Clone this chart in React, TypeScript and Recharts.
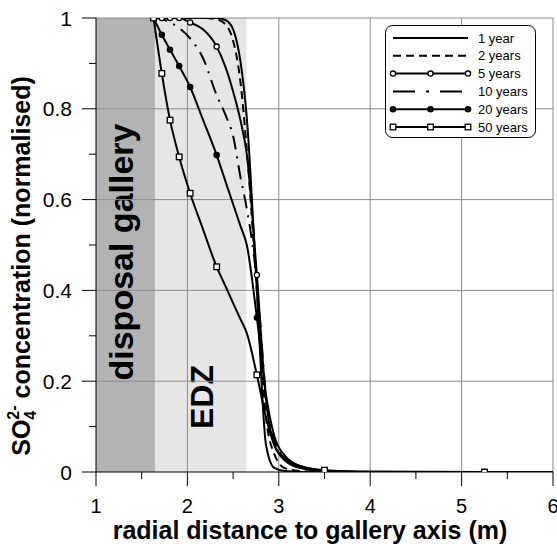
import {
  LineChart,
  Line,
  XAxis,
  YAxis,
  ReferenceArea,
  ReferenceLine,
  Legend,
} from "recharts";

// radial mesh (m) shared by all series
const radius = [
  1.63, 1.72, 1.81, 1.91, 2.03, 2.17, 2.32, 2.42, 2.5, 2.58, 2.65, 2.76, 2.86,
  2.95, 3.07, 3.25, 3.5, 4.0, 5.25, 6.0,
];
const markerRadius = [1.63, 1.72, 1.81, 1.91, 2.03, 2.32, 2.76, 3.5, 5.25];

const year1 = [
  1, 1, 1, 1, 1, 1, 1, 0.995, 0.975, 0.905, 0.78, 0.4, 0.06, 0.009, 0.002, 0,
  0, 0, 0, 0,
];
const year2 = [
  1, 1, 1, 1, 1, 1, 0.997, 0.985, 0.95, 0.86, 0.71, 0.4, 0.12, 0.04, 0.008,
  0.002, 0, 0, 0, 0,
];
const year5 = [
  1, 1, 1, 1, 0.99, 0.975, 0.937, 0.89, 0.838, 0.775, 0.7, 0.434, 0.16, 0.06,
  0.025, 0.008, 0.002, 0, 0, 0,
];
const year10 = [
  1, 0.998, 0.99, 0.978, 0.955, 0.912, 0.83, 0.785, 0.74, 0.65, 0.58, 0.42,
  0.17, 0.07, 0.03, 0.01, 0.003, 0, 0, 0,
];
const year20 = [
  1, 0.963, 0.93, 0.894, 0.848, 0.776, 0.698, 0.638, 0.59, 0.542, 0.5, 0.34,
  0.17, 0.08, 0.035, 0.012, 0.003, 0, 0, 0,
];
const year50 = [
  1, 0.878, 0.775, 0.694, 0.614, 0.535, 0.452, 0.408, 0.372, 0.337, 0.306,
  0.214, 0.12, 0.06, 0.03, 0.012, 0.004, 0.001, 0, 0,
];

const xTicks = [1, 1.5, 2, 2.5, 3, 3.5, 4, 4.5, 5, 5.5, 6];
const yTicks = [0, 0.1, 0.2, 0.3, 0.4, 0.5, 0.6, 0.7, 0.8, 0.9, 1];
const xGrid = [2, 3, 4, 5, 6];
const yGrid = [0.2, 0.4, 0.6, 0.8, 1];
const galleryEdge = 1.645;
const edzEdge = 2.645;

const series = [
  { key: "y1", name: "1 year", values: year1, dash: undefined, marker: "" },
  { key: "y2", name: "2 years", values: year2, dash: "8 5", marker: "" },
  { key: "y5", name: "5 years", values: year5, dash: undefined, marker: "circle" },
  { key: "y10", name: "10 years", values: year10, dash: "14 7 2 7", marker: "" },
  { key: "y20", name: "20 years", values: year20, dash: undefined, marker: "dot" },
  { key: "y50", name: "50 years", values: year50, dash: undefined, marker: "square" },
];

const data = radius.map((x, i) => {
  const row: Record<string, number> = { x };
  series.forEach((s) => {
    row[s.key] = s.values[i];
  });
  return row;
});

const FONT = "'Liberation Sans', Arial, sans-serif";
const PLOT_LEFT = 96;
const PLOT_BOTTOM = 472;

function Marker({ kind, cx, cy }: { kind: string; cx: number; cy: number }) {
  if (kind === "circle")
    return <circle cx={cx} cy={cy} r={2.6} fill="#fff" stroke="#000" strokeWidth={1.3} />;
  if (kind === "dot") return <circle cx={cx} cy={cy} r={3.3} fill="#000" />;
  if (kind === "square")
    return (
      <rect x={cx - 2.8} y={cy - 2.8} width={5.6} height={5.6} fill="#fff" stroke="#000" strokeWidth={1.3} />
    );
  return null;
}

const makeDot = (kind: string) => (props: any) => {
  const { cx, cy, payload, index } = props;
  if (!markerRadius.includes(payload.x)) return <g key={index} />;
  return (
    <g key={index}>
      <Marker kind={kind} cx={cx} cy={cy} />
    </g>
  );
};

function XTick({ x, payload }: any) {
  const v = payload.value;
  const major = Number.isInteger(v);
  return (
    <g>
      <line x1={x} x2={x} y1={PLOT_BOTTOM} y2={PLOT_BOTTOM + (major ? 14 : 7)} stroke="#000" />
      {major && (
        <text x={x} y={PLOT_BOTTOM + 41} textAnchor="middle" fontSize={20} fontFamily={FONT} fill="#000">
          {v}
        </text>
      )}
    </g>
  );
}

function YTick({ y, payload }: any) {
  const v = Math.round(payload.value * 10) / 10;
  const major = Math.round(v * 10) % 2 === 0;
  return (
    <g>
      <line x1={PLOT_LEFT - (major ? 14 : 7)} x2={PLOT_LEFT} y1={y} y2={y} stroke="#000" />
      {major && (
        <text x={PLOT_LEFT - 24} y={y + 7.5} textAnchor="end" fontSize={21} fontFamily={FONT} fill="#000">
          {v}
        </text>
      )}
    </g>
  );
}

// rotated text placed inside a shaded band
const bandLabel = (text: string, size: number, dx: number, cy: number) => (props: any) => {
  const vb = props.viewBox || {};
  const bx = vb.x + vb.width / 2 + dx;
  return (
    <text
      transform={`translate(${bx},${cy}) rotate(-90)`}
      textAnchor="middle"
      fontSize={size}
      fontWeight="bold"
      fontFamily={FONT}
      fill="#000"
    >
      {text}
    </text>
  );
};

function LegendBox() {
  return (
    <svg width={152} height={114} style={{ display: "block" }}>
      <rect x={0.5} y={0.5} width={150} height={112} rx={7} fill="#fff" stroke="#000" />
      {series.map((s, i) => {
        const y = 13 + i * 17.8;
        return (
          <g key={s.key}>
            <line
              x1={8}
              x2={83}
              y1={y}
              y2={y}
              stroke="#000"
              strokeWidth={2}
              strokeDasharray={s.dash === "14 7 2 7" ? "22 11 3 11" : s.dash}
            />
            {s.marker &&
              [8, 45.5, 83].map((mx) => <Marker key={mx} kind={s.marker} cx={mx} cy={y} />)}
            <text x={93} y={y + 4.5} fontSize={13} fontFamily={FONT} fill="#000">
              {s.name}
            </text>
          </g>
        );
      })}
    </svg>
  );
}

export default function App() {
  return (
    <div style={{ position: "absolute", left: 0, top: 0, background: "#fff" }}>
      <LineChart width={557} height={544} data={data} margin={{ top: 18, right: 4, left: 0, bottom: 0 }}>
        <ReferenceArea
          x1={1}
          x2={galleryEdge}
          y1={0}
          y2={1}
          fill="#b3b3b3"
          fillOpacity={1}
          stroke="none"
          label={bandLabel("disposal gallery", 34, 8, 252)}
        />
        <ReferenceArea
          x1={galleryEdge}
          x2={edzEdge}
          y1={0}
          y2={1}
          fill="#e6e6e6"
          fillOpacity={1}
          stroke="none"
          label={bandLabel("EDZ", 32, 12, 397)}
        />
        {xGrid.map((v) => (
          <ReferenceLine key={"gx" + v} x={v} stroke="#8c8c8c" strokeWidth={1} />
        ))}
        {yGrid.map((v) => (
          <ReferenceLine key={"gy" + v} y={v} stroke="#8c8c8c" strokeWidth={1} />
        ))}
        <XAxis
          dataKey="x"
          type="number"
          domain={[1, 6]}
          ticks={xTicks}
          interval={0}
          height={72}
          tick={<XTick />}
          tickLine={false}
          axisLine={{ stroke: "#000" }}
          allowDataOverflow
        />
        <YAxis
          type="number"
          domain={[0, 1]}
          ticks={yTicks}
          interval={0}
          width={96}
          tick={<YTick />}
          tickLine={false}
          axisLine={{ stroke: "#000" }}
          allowDataOverflow
        />
        <Legend
          layout="horizontal"
          verticalAlign="middle"
          align="center"
          content={() => <LegendBox />}
          wrapperStyle={{ position: "absolute", left: 385, top: 25, width: 152, height: 114 }}
        />
        {series.map((s) => (
          <Line
            key={s.key}
            dataKey={s.key}
            name={s.name}
            type="monotone"
            stroke="#000"
            strokeWidth={2}
            strokeDasharray={s.dash}
            dot={s.marker ? makeDot(s.marker) : false}
            activeDot={false}
            isAnimationActive={false}
          />
        ))}
        <text
          transform="translate(30,266) rotate(-90)"
          textAnchor="middle"
          fontSize={25}
          fontWeight="bold"
          fontFamily={FONT}
          fill="#000"
        >
          SO
          <tspan fontSize={16} dy={6}>4</tspan>
          <tspan fontSize={16} dx={-8.9} dy={-17}>2-</tspan>
          <tspan dy={11}> concentration (normalised)</tspan>
        </text>
        <text
          x={310}
          y={539}
          textAnchor="middle"
          fontSize={25}
          fontWeight="bold"
          fontFamily={FONT}
          fill="#000"
        >
          radial distance to gallery axis (m)
        </text>
      </LineChart>
    </div>
  );
}
